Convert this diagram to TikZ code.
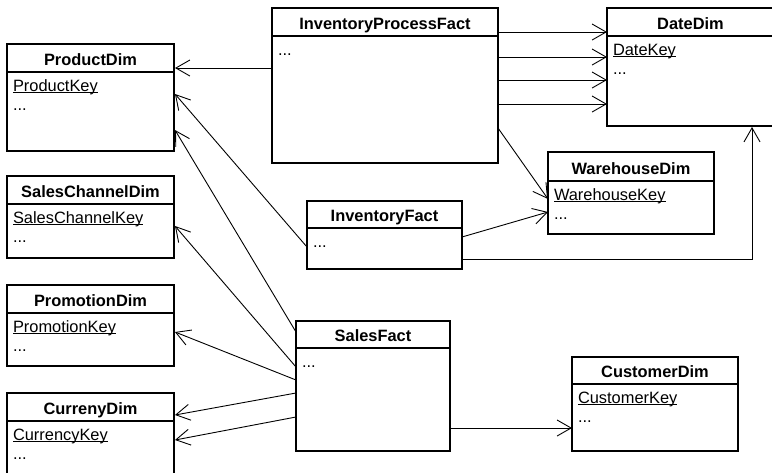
\documentclass[tikz,border=0pt]{standalone}
\usepackage{fontspec}
\setmainfont{Liberation Sans}
\usetikzlibrary{arrows.meta,calc}
\newcommand\keyul[1]{{\setbox0\hbox{#1}\rlap{\rule[-2.3pt]{\wd0}{0.9pt}}\box0}}
\tikzset{
  txt/.style={font=\fontsize{16.4}{19}\selectfont, inner sep=0pt, outer sep=0pt},
  classbox/.style={draw, line width=1.1pt, inner sep=0pt, outer sep=0pt},
  boxline/.style={line width=1.1pt},
  conn/.style={line width=0.9pt, -{Straight Barb[length=14pt,width=16pt]}},
}
% name, x1, y1, x2, y2, header y, title
\newcommand\umlframe[7]{%
  \node[classbox, minimum width={#4-#2}, minimum height={#5-#3}, anchor=north west] (#1) at (#2,#3) {};
  \draw[boxline] (#2,#6) -- (#4,#6);
  \node[txt, font=\fontsize{16.4}{19}\selectfont\bfseries, anchor=base] (#1-title) at ({(#2+#4)/2},{#6-7}) {#7};
}
% dimension: name, x1, y1, x2, y2, header y, title, key
\newcommand\umldim[8]{%
  \umlframe{#1}{#2}{#3}{#4}{#5}{#6}{#7}
  \node[txt, anchor=base west] (#1-key) at ({#2+6},{#6+19}) {\keyul{#8}};
  \node[txt, anchor=base west] (#1-more) at ({#2+6},{#6+38}) {...};
}
% fact: name, x1, y1, x2, y2, header y, title
\newcommand\umlfact[7]{%
  \umlframe{#1}{#2}{#3}{#4}{#5}{#6}{#7}
  \node[txt, anchor=base west] (#1-more) at ({#2+6},{#6+19}) {...};
}
\begin{document}
\begin{tikzpicture}[x=1pt,y=-1pt]
\useasboundingbox (0,0) rectangle (772,472);
\clip (0,0) rectangle (772,472);
\fill[white] (0,0) rectangle (772,472);

\umldim{pd}{7}{44}{174}{151}{72}{ProductDim}{ProductKey}
\umldim{scd}{7}{176}{174}{258}{204}{SalesChannelDim}{SalesChannelKey}
\umldim{pmd}{7}{285}{174}{366}{313}{PromotionDim}{PromotionKey}
\umldim{cd}{7}{393}{174}{500}{421}{CurrenyDim}{CurrencyKey}
\umlfact{ipf}{272}{8}{498}{163}{36}{InventoryProcessFact}
\umldim{dd}{607}{8}{774}{126}{36}{DateDim}{DateKey}
\umldim{wd}{548}{152}{714}{234}{181}{WarehouseDim}{WarehouseKey}
\umlfact{inf}{307}{201}{462}{269}{228}{InventoryFact}
\umlfact{sf}{296}{321}{450}{451}{348}{SalesFact}
\umldim{cud}{572}{357}{738}{451}{384}{CustomerDim}{CustomerKey}

% InventoryProcessFact
\draw[conn] ($(ipf.north west)+(0,60)$) -- ($(pd.north east)+(1,24)$);
\draw[conn] ($(ipf.north east)+(0,24)$) -- ($(dd.north west)+(0,24)$);
\draw[conn] ($(ipf.north east)+(0,49)$) -- ($(dd.north west)+(0,49)$);
\draw[conn] ($(ipf.north east)+(0,72)$) -- ($(dd.north west)+(0,72)$);
\draw[conn] ($(ipf.north east)+(0,96)$) -- ($(dd.north west)+(0,96)$);
\draw[conn] ($(ipf.north east)+(0,120)$) -- ($(wd.north west)+(0,47)$);
% InventoryFact
\draw[conn] ($(inf.north east)+(0,36)$) -- ($(wd.north west)+(0,60)$);
\draw[conn] ($(inf.north east)+(0,58)$) -| ($(dd.south west)+(145,1)$);
\draw[conn] ($(inf.north west)+(0,46)$) -- ($(pd.north east)+(1,50)$);
% SalesFact
\draw[conn] ($(sf.north west)+(0,11)$) -- ($(pd.north east)+(1,86)$);
\draw[conn] ($(sf.north west)+(0,46)$) -- ($(scd.north east)+(1,50)$);
\draw[conn] ($(sf.north west)+(0,59)$) -- ($(pmd.north east)+(1,47)$);
\draw[conn] ($(sf.north west)+(0,72)$) -- ($(cd.north east)+(1,22)$);
\draw[conn] ($(sf.north west)+(0,96)$) -- ($(cd.north east)+(1,47)$);
\draw[conn] ($(sf.north east)+(0,107)$) -- ($(cud.north west)+(0,71)$);
\end{tikzpicture}
\end{document}
